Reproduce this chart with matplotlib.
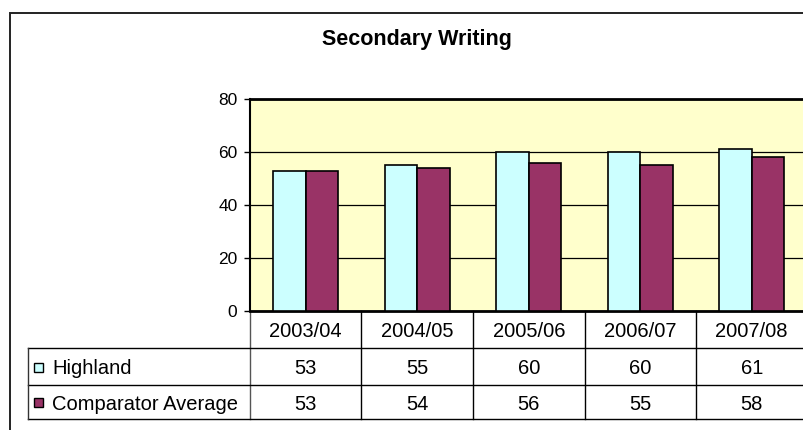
import numpy as np
import matplotlib.pyplot as plt
from matplotlib.patches import Rectangle
from matplotlib.transforms import blended_transform_factory

# Data
years = ['2003/04', '2004/05', '2005/06', '2006/07', '2007/08']
highland = [53, 55, 60, 60, 61]
comparator = [53, 54, 56, 55, 58]
series_names = ['Highland', 'Comparator Average']
series_colors = ['#CCFFFF', '#993366']
yticks = [0, 20, 40, 60, 80]

plt.rcParams['font.family'] = ['Liberation Sans', 'DejaVu Sans']

W, H = 804, 430
fig = plt.figure(figsize=(W / 100, H / 100), dpi=100)

# helpers to go from pixel positions (from top-left) to figure fractions
def fx(px):
    return px / W

def fy(py):
    return 1 - py / H

# outer chart frame (runs off the right and bottom of the picture)
fig.patches.append(Rectangle((fx(10), fy(440)), fx(840) - fx(10), fy(13) - fy(440),
                             transform=fig.transFigure, fill=False,
                             edgecolor='#222222', linewidth=1.4))

# plot area
left, right, top, bottom = 250, 807.5, 99, 311
ax = fig.add_axes([fx(left), fy(bottom), fx(right) - fx(left), fy(top) - fy(bottom)])
ax.set_facecolor('#FFFFCC')

x = np.arange(len(years))
bw = 0.29
ax.bar(x - bw / 2, highland, bw, color=series_colors[0], edgecolor='black', linewidth=1.2, zorder=3)
ax.bar(x + bw / 2, comparator, bw, color=series_colors[1], edgecolor='black', linewidth=1.2, zorder=3)

ax.set_xlim(-0.5, len(years) - 0.5)
ax.set_ylim(0, 80)
ax.set_yticks(yticks)
ax.set_xticks([])
ax.yaxis.grid(True, color='black', linewidth=0.9)
ax.set_axisbelow(True)
ax.tick_params(axis='y', length=4, width=1, pad=5, labelsize=12.5, colors='black')

ax.spines['right'].set_visible(False)
ax.spines['top'].set_linewidth(2)
ax.spines['left'].set_linewidth(1.5)
ax.spines['bottom'].set_linewidth(2)
for s in ['top', 'left', 'bottom']:
    ax.spines[s].set_color('black')

# title
fig.text(fx(417), fy(40), 'Secondary Writing', ha='center', va='center',
         fontsize=15.5, fontweight='bold')

# data table below the plot
tr = blended_transform_factory(ax.transData, fig.transFigure)
row_lines = [bottom, 348, 385, 419]
table_left = 28
bounds = np.arange(len(years) + 1) - 0.5

# horizontal lines
for ry in row_lines[1:]:
    fig.add_artist(plt.Line2D([fx(table_left), 1.02], [fy(ry), fy(ry)],
                              transform=fig.transFigure, color='black', linewidth=1))
# vertical lines
fig.add_artist(plt.Line2D([fx(table_left), fx(table_left)], [fy(348), fy(419)],
                          transform=fig.transFigure, color='#333333', linewidth=1))
for i, b in enumerate(bounds):
    col = '#555555' if i == 0 else 'black'
    ax.add_line(plt.Line2D([b, b], [fy(bottom), fy(419)], transform=tr,
                           color=col, linewidth=1, clip_on=False))

# header row: years
for xi, yr in zip(x, years):
    fig.text(xi, fy(331.5), yr, transform=tr, ha='center', va='center', fontsize=14.5)

# value rows
rows = [highland, comparator]
row_centres = [369, 404]
for vals, name, colr, ry in zip(rows, series_names, series_colors, row_centres):
    for xi, v in zip(x, vals):
        fig.text(xi, fy(ry), str(v), transform=tr, ha='center', va='center', fontsize=14.5)
    # legend key
    fig.patches.append(Rectangle((fx(34), fy(ry + 3)), fx(9), 9 / H,
                                 transform=fig.transFigure, facecolor=colr,
                                 edgecolor='black', linewidth=1))
    fig.text(fx(52), fy(ry), name, ha='left', va='center', fontsize=14.5)

fig.savefig('out.png', dpi=100)
